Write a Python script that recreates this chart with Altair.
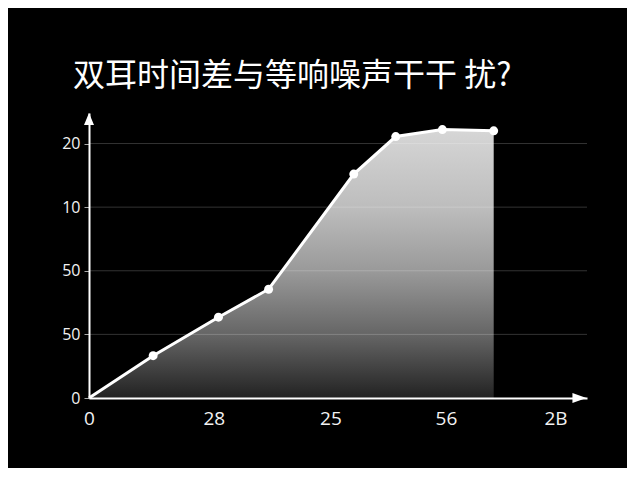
import altair as alt
import pandas as pd

title_text = "双耳时间差与等响噪声干干 扰?"
x_vals = [0, 0.55, 1.11, 1.54, 2.27, 2.63, 3.03, 3.47]
y_vals = [0, 0.665, 1.27, 1.71, 3.52, 4.11, 4.22, 4.20]
x_tick_vals = [0, 1.07, 2.07, 3.06, 4.0]
x_tick_labels = ["0", "28", "25", "56", "2B"]
y_tick_vals = [0, 1, 2, 3, 4]
y_tick_labels = ["0", "50", "50", "10", "20"]
x_max = 4.27
y_max = 4.48

df = pd.DataFrame({"x": x_vals, "y": y_vals})
grid_df = pd.DataFrame({"y": y_tick_vals[1:], "x0": [0] * 4, "x1": [x_max] * 4})
up_df = pd.DataFrame({"x": [0], "y": [4.385]})
right_df = pd.DataFrame({"x": [4.205], "y": [0]})


def label_expr(vals, labels):
    v = ",".join(str(a) for a in vals)
    l = ",".join("'" + s + "'" for s in labels)
    return f"[{l}][indexof([{v}], datum.value)]"


xscale = alt.Scale(domain=[0, x_max], nice=False, zero=False)
yscale = alt.Scale(domain=[0, y_max], nice=False, zero=False)

xaxis = alt.Axis(values=x_tick_vals, labelExpr=label_expr(x_tick_vals, x_tick_labels),
                 grid=False, ticks=False, domainColor="white", domainWidth=2,
                 labelColor="#f2f2f2", labelFontSize=19, labelFont="Open Sans",
                 labelPadding=11, title=None, zindex=1, labelFlush=False)
yaxis = alt.Axis(values=y_tick_vals, labelExpr=label_expr(y_tick_vals, y_tick_labels),
                 grid=False, ticks=True, tickSize=5, tickColor="#aaaaaa", tickWidth=1,
                 domainColor="white", domainWidth=2,
                 labelColor="#f2f2f2", labelFontSize=16, labelFont="Open Sans",
                 labelPadding=4, title=None, zindex=1, labelFlush=False)

X = alt.X("x:Q", scale=xscale, axis=xaxis)
Y = alt.Y("y:Q", scale=yscale, axis=yaxis)

area = alt.Chart(df).mark_area(
    color=alt.Gradient(
        gradient="linear",
        stops=[
            alt.GradientStop(color="#d6d6d6", offset=0),
            alt.GradientStop(color="#bdbdbd", offset=0.29),
            alt.GradientStop(color="#999999", offset=0.53),
            alt.GradientStop(color="#646464", offset=0.77),
            alt.GradientStop(color="#222222", offset=1),
        ],
        x1=1, x2=1, y1=0, y2=1,
    ),
    opacity=1,
).encode(x=X, y=Y)

grid = alt.Chart(grid_df).mark_rule(color="white", opacity=0.2, strokeWidth=1).encode(
    x=alt.X("x0:Q", scale=xscale, axis=xaxis), x2="x1:Q",
    y=alt.Y("y:Q", scale=yscale, axis=yaxis))

line = alt.Chart(df).mark_line(color="white", strokeWidth=3).encode(x=X, y=Y)

points = alt.Chart(df).transform_filter("datum.x > 0").mark_point(
    filled=True, color="white", size=80, opacity=1).encode(x=X, y=Y)

up_arrow = alt.Chart(up_df).mark_point(
    shape="M0,-1L0.833,1L-0.833,1Z", filled=True, color="white", size=144, opacity=1
).encode(x=X, y=Y)
right_arrow = alt.Chart(right_df).mark_point(
    shape="M1,0L-1,0.714L-1,-0.714Z", filled=True, color="white", size=196, opacity=1
).encode(x=X, y=Y)

chart = alt.layer(area, grid, line, points, up_arrow, right_arrow).properties(
    width=498, height=285,
    title=alt.TitleParams(
        text=title_text, anchor="start", frame="group", dx=-16, dy=28,
        fontSize=32, font="Noto Sans CJK SC", fontWeight="normal",
        color="white", baseline="bottom", offset=16),
    autosize=alt.AutoSizeParams(type="none"),
    padding={"left": 81, "top": 105, "right": 40, "bottom": 70},
    background="#000000",
).configure_view(stroke=None)

chart.save("out.html", embed_options={"renderer": "svg", "actions": False})
